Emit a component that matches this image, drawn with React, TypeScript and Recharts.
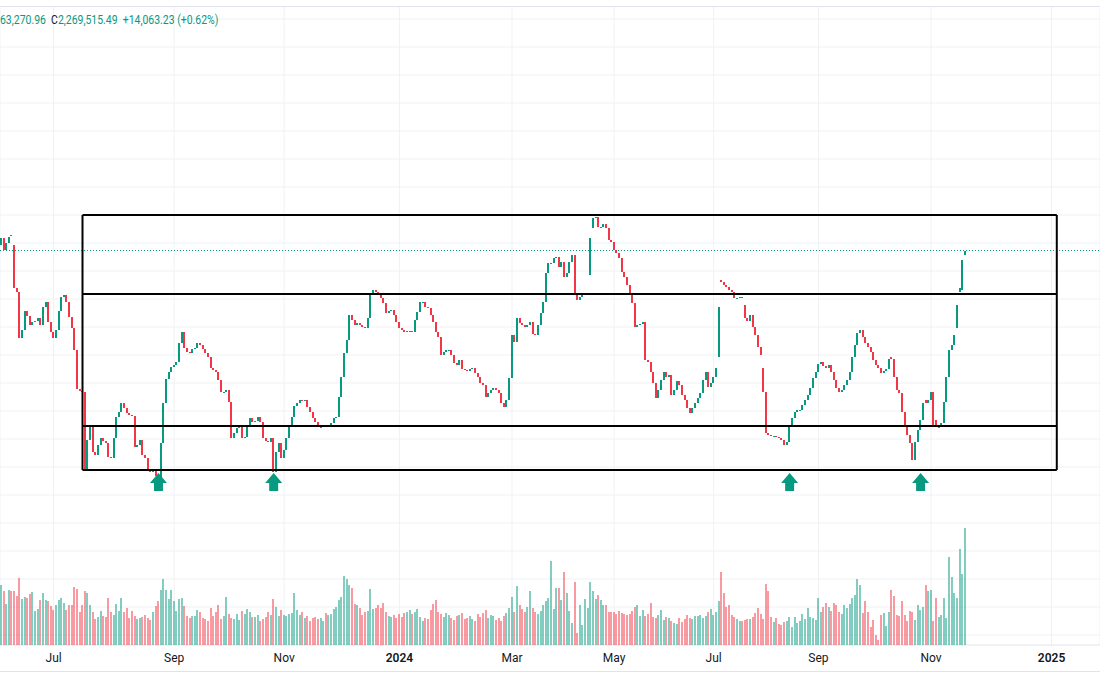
import React from "react";
import { Bar, CartesianGrid, ComposedChart, ReferenceDot, ReferenceLine, XAxis, YAxis } from "recharts";

const UP = "#089981";
const DOWN = "#f23645";

// daily closes, in thousands of index points
const closesJunJul23 = [
  2282, 2270, 2277, 2283, 2284, 2232, 2228, 2182, 2190, 2209, 2204, 2195, 2198, 2199, 2202, 2195, 2213, 2218,
  2198, 2188, 2182, 2190, 2209, 2223, 2225, 2218, 2203, 2192, 2170, 2131, 2129, 2128, 2050,
];
const closesAugOct23 = [
  2080, 2093, 2068, 2065, 2075, 2082, 2079, 2077, 2063, 2062, 2082, 2103, 2108, 2117, 2112, 2107, 2105, 2104, 2073,
  2075, 2080, 2065, 2062, 2050, 2048, 2051, 2044, 2043, 2077, 2117, 2141, 2148, 2153, 2155, 2158, 2177, 2188, 2172,
  2168, 2167, 2171, 2172, 2177, 2175, 2171, 2167, 2163, 2152, 2150, 2148, 2140, 2128, 2128, 2130, 2118, 2082, 2087,
  2092, 2095, 2082, 2083, 2093, 2102, 2098, 2099, 2103, 2098, 2082, 2079, 2078, 2082, 2048,
];
const closesNovDec23 = [
  2068, 2077, 2062, 2070, 2082, 2095, 2103, 2114, 2117, 2120, 2119, 2120, 2113, 2108, 2102, 2098, 2093, 2093, 2095,
  2093, 2094, 2097, 2102, 2103, 2123, 2143, 2167, 2180, 2205, 2200, 2195, 2197, 2195, 2193, 2192, 2202, 2227, 2230,
  2228, 2225, 2222, 2217, 2207, 2209, 2210, 2205, 2198, 2192, 2190, 2188,
];
const closesJanFeb24 = [
  2189, 2189, 2188, 2200, 2208, 2218, 2218, 2213, 2212, 2205, 2198, 2188, 2183, 2165, 2168, 2170, 2170, 2165, 2157,
  2155, 2160, 2151, 2150, 2149, 2151, 2152, 2147, 2143, 2137, 2135, 2123, 2127, 2130, 2132, 2130, 2127, 2117, 2113,
  2120, 2142, 2185, 2178, 2202, 2197, 2195, 2193, 2195, 2198, 2186, 2185, 2195, 2207, 2218,
];
const closesMarMay24 = [
  2247, 2257, 2257, 2262, 2263, 2253, 2258, 2243, 2247, 2258, 2265, 2227, 2220, 2223, 2225, 2227, 2227, 2282, 2302,
  2303, 2293, 2293, 2296, 2292, 2280, 2278, 2270, 2267, 2262, 2248, 2243, 2235, 2227, 2217, 2193, 2195, 2196, 2198,
  2160, 2158, 2148, 2137, 2122, 2130, 2140, 2148, 2143, 2145, 2125, 2130, 2139,
];
const closesJunAug24 = [
  2135, 2125, 2120, 2112, 2107, 2112, 2117, 2122, 2127, 2140, 2148, 2133, 2137, 2143, 2152, 2213, 2238, 2235, 2233,
  2230, 2228, 2222, 2222, 2223, 2222, 2202, 2199, 2205, 2193, 2185, 2173, 2165, 2128, 2087, 2085, 2084, 2084, 2083,
  2082, 2080, 2075, 2078, 2093, 2102, 2108,
];
const closesSepNov24 = [
  2110, 2110, 2115, 2120, 2125, 2132, 2142, 2148, 2156, 2158, 2154, 2152, 2155, 2148, 2140, 2132, 2128, 2130, 2135,
  2140, 2148, 2163, 2175, 2187, 2190, 2183, 2177, 2173, 2168, 2160, 2155, 2152, 2147, 2149, 2151, 2161, 2161, 2143,
  2130, 2127, 2108, 2095, 2085, 2077, 2060, 2078, 2090, 2100, 2117, 2117, 2120, 2128, 2093, 2093, 2093, 2097, 2118,
  2143, 2170, 2175, 2185, 2215, 2232, 2260, 2269.5,
];

// opens that gap away from the previous close (bar index -> open)
const gapOpens: Record<number, number> = {
  0: 2275, 4: 2285, 5: 2275, 225: 2245, 226: 2292, 274: 2163, 275: 2240, 284: 2215, 291: 2152,
  340: 2163, 353: 2120, 357: 2100, 365: 2192, 366: 2228, 367: 2230, 368: 2265,
};

const volumes2023 = [
  60, 54, 41, 55, 54, 54, 49, 67, 46, 48, 47, 51, 53, 34, 36, 45, 52, 45, 44, 39,
  35, 40, 45, 47, 42, 35, 40, 40, 58, 56, 33, 40, 54, 52, 40, 33, 26, 28, 34, 29,
  28, 47, 33, 30, 41, 34, 47, 33, 37, 27, 34, 29, 26, 27, 28, 30, 27, 25, 33, 39,
  44, 55, 66, 55, 46, 55, 44, 34, 46, 47, 39, 29, 27, 29, 29, 35, 33, 27, 26, 24,
  37, 29, 33, 40, 26, 29, 48, 31, 27, 26, 31, 25, 34, 31, 36, 33, 28, 28, 30, 24,
  26, 28, 33, 30, 46, 38, 29, 35, 30, 29, 31, 32, 52, 35, 30, 33, 27, 29, 24, 27,
  28, 26, 27, 24, 32, 30, 31, 36, 38, 45, 48, 69, 66, 60, 57, 41, 40, 37, 30, 33,
  34, 56, 36, 37, 40, 37, 42, 33, 29, 28,
];
const volumesH1_24 = [
  30, 27, 31, 28, 32, 33, 35, 31, 33, 36, 28, 24, 27, 26, 35, 41, 45, 33, 31, 28,
  32, 30, 27, 25, 29, 30, 32, 26, 27, 29, 26, 24, 31, 28, 32, 35, 27, 30, 29, 25,
  27, 24, 29, 32, 37, 48, 33, 59, 40, 36, 33, 38, 54, 37, 33, 31, 34, 40, 44, 47,
  84, 36, 57, 57, 45, 73, 52, 34, 22, 63, 12, 40, 20, 46, 37, 63, 54, 46, 50, 45,
  40, 40, 33, 33, 33, 31, 34, 32, 31, 30, 31, 34, 38, 40, 29, 35, 29, 31, 42, 28,
  27, 30, 35, 25, 28, 27, 24, 22, 21, 27, 23, 26, 30, 27, 26, 29, 29, 30, 27, 29,
];
const volumesH2_24 = [
  33, 36, 30, 33, 44, 73, 52, 38, 40, 30, 28, 26, 24, 24, 25, 26, 26, 28, 32, 37,
  31, 26, 61, 54, 28, 23, 27, 21, 20, 23, 24, 28, 18, 28, 22, 24, 31, 26, 37, 28,
  27, 25, 47, 33, 38, 42, 38, 34, 42, 40, 33, 31, 40, 37, 41, 47, 50, 66, 60, 32,
  44, 33, 18, 25, 10, 5, 30, 32, 19, 33, 55, 49, 30, 29, 44, 30, 24, 34, 33, 25,
  40, 35, 38, 60, 54, 55, 24, 47, 28, 30, 47, 27, 88, 68, 52, 47, 96, 71, 117,
];

const tickBars = [20, 66, 108, 152, 195, 234, 272, 312, 355, 401];
const tickLabels = ["Jul", "Sep", "Nov", "2024", "Mar", "May", "Jul", "Sep", "Nov", "2025"];
const priceTicks = [
  2501, 2473, 2445, 2417, 2389, 2361, 2333, 2305, 2277, 2249, 2221, 2193, 2165, 2137, 2109, 2081, 2053, 2025,
  1997, 1969, 1941, 1913, 1885,
];

// drawn range box and levels
const zoneLevels = [2305, 2226, 2094, 2050];
const zoneFrom = 31;
const zoneTo = 403;
const arrowBars = [60, 104, 301, 351];
const arrowLevel = 2038;
const lastClose = 2269.5;

const closes = [
  ...closesJunJul23, ...closesAugOct23, ...closesNovDec23, ...closesJanFeb24,
  ...closesMarMay24, ...closesJunAug24, ...closesSepNov24,
];
const volumes = [...volumes2023, ...volumesH1_24, ...volumesH2_24];
const SLOTS = 420;

const rows = Array.from({ length: SLOTS }, (_, i) => {
  if (i >= closes.length) return { i };
  const close = closes[i];
  const open = gapOpens[i] ?? closes[i - 1];
  return { i, open, close, vol: volumes[i], body: [Math.min(open, close), Math.max(open, close)] };
});

function Candle(props: any) {
  const { x, y, width, height, payload } = props;
  if (!payload || payload.close == null) return null;
  const top = height < 0 ? y + height : y;
  return (
    <rect
      x={Math.round(x)} y={top} width={width} height={Math.max(Math.abs(height), 1)}
      fill={payload.close >= payload.open ? UP : DOWN} shapeRendering="crispEdges"
    />
  );
}

function VolumeBar(props: any) {
  const { x, y, width, height, payload } = props;
  if (!payload || payload.vol == null) return null;
  return (
    <rect
      x={Math.round(x)} y={y} width={width} height={height}
      fill={payload.close >= payload.open ? UP : DOWN} fillOpacity={0.5} shapeRendering="crispEdges"
    />
  );
}

function Arrow({ cx, cy }: any) {
  const d = `M${cx} ${cy - 9} L${cx + 8.5} ${cy + 1} L${cx + 4.5} ${cy + 1} L${cx + 4.5} ${cy + 9} L${cx - 4.5} ${cy + 9} L${cx - 4.5} ${cy + 1} L${cx - 8.5} ${cy + 1} Z`;
  return <path d={d} fill={UP} />;
}

function MonthTick({ x, y, payload }: any) {
  const label = tickLabels[tickBars.indexOf(payload.value)];
  const year = /^\d{4}$/.test(label);
  return (
    <text x={x} y={y} dy="0.71em" textAnchor="middle" fill="#131722" fontSize={12} fontWeight={year ? 600 : 400} fontFamily="Roboto, sans-serif">
      {label}
    </text>
  );
}

export default function App() {
  return (
    <div style={{ position: "absolute", left: 0, top: 0, width: 1100, height: 700, background: "#fff", overflow: "hidden" }}>
      <div style={{ position: "absolute", left: 0, top: 6, width: 1100, height: 1, background: "#e0e3eb" }} />
      <div style={{ position: "absolute", left: 0, top: 0 }}>
        <ComposedChart width={1100} height={676} data={rows} margin={{ top: 7, right: 0, bottom: 0, left: 0 }} barCategoryGap={0}>
          <CartesianGrid stroke="#eff1f5" horizontalValues={priceTicks} />
          <XAxis dataKey="i" ticks={tickBars} interval={0} height={31} tickLine={false} axisLine={{ stroke: "#e0e3eb" }} tick={<MonthTick />} />
          <YAxis hide domain={[1875, 2513]} ticks={priceTicks} allowDataOverflow />
          <ReferenceLine y={lastClose} stroke={UP} strokeDasharray="1 2" />
          <Bar dataKey="body" barSize={2} shape={(p: any) => <Candle {...p} />} isAnimationActive={false} />
          {zoneLevels.map((lv) => (
            <ReferenceLine key={lv} segment={[{ x: zoneFrom, y: lv }, { x: zoneTo, y: lv }]} stroke="#000" strokeWidth={2} />
          ))}
          <ReferenceLine segment={[{ x: zoneFrom, y: zoneLevels[3] }, { x: zoneFrom, y: zoneLevels[0] }]} stroke="#000" strokeWidth={2} />
          <ReferenceLine segment={[{ x: zoneTo, y: zoneLevels[3] }, { x: zoneTo, y: zoneLevels[0] }]} stroke="#000" strokeWidth={2} />
          {arrowBars.map((b) => (
            <ReferenceDot key={b} x={b} y={arrowLevel} shape={(p: any) => <Arrow {...p} />} />
          ))}
        </ComposedChart>
      </div>
      <div style={{ position: "absolute", left: 0, top: 0, pointerEvents: "none" }}>
        <ComposedChart width={1100} height={676} data={rows} margin={{ top: 7, right: 0, bottom: 31, left: 0 }} barCategoryGap={0}>
          <XAxis dataKey="i" hide />
          <YAxis hide domain={[0, 640]} />
          <Bar dataKey="vol" barSize={2} shape={(p: any) => <VolumeBar {...p} />} isAnimationActive={false} />
        </ComposedChart>
      </div>
      <div style={{ position: "absolute", left: 0, top: 671, width: 1100, height: 1, background: "#e0e3eb" }} />
      <div
        style={{
          position: "absolute", left: 0, top: 13, fontFamily: "Roboto, sans-serif", fontSize: 12, lineHeight: "14px",
          color: UP, whiteSpace: "nowrap", transform: "scaleX(0.87)", transformOrigin: "left center",
        }}
      >
        <span>63,270.96</span>
        <span style={{ marginLeft: 6, color: "#131722" }}>C</span>
        <span>2,269,515.49</span>
        <span style={{ marginLeft: 6 }}>+14,063.23 (+0.62%)</span>
      </div>
    </div>
  );
}
